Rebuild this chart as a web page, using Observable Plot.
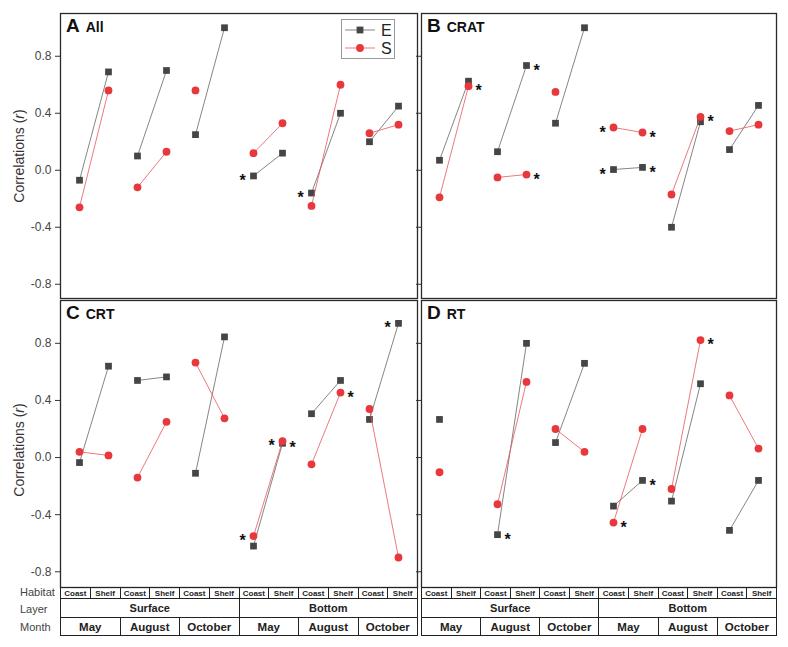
<!DOCTYPE html>
<html>
<head>
<meta charset="utf-8">
<script src="https://cdn.jsdelivr.net/npm/d3@7"></script>
<script src="https://cdn.jsdelivr.net/npm/@observablehq/plot@0.6"></script>
<style>
  body { margin: 0; background: #fff; }
  #root { position: relative; width: 788px; height: 647px; overflow: hidden; background: #fff; font-family: "Liberation Sans", Arial, sans-serif; }
  .abs { position: absolute; }
  .plab { position: absolute; font-weight: bold; color: #111; white-space: nowrap; }
  .plab .big { font-size: 19px; }
  .plab .small { font-size: 14px; margin-left: 6px; }
  table.tb { position: absolute; border-collapse: collapse; table-layout: fixed; }
  table.tb td { border: 1px solid #222; padding: 0; text-align: center; font-weight: bold; color: #222; overflow: hidden; white-space: nowrap; }
  .rowlab { position: absolute; left: 20px; font-size: 11px; color: #444; }
  .ylab { position: absolute; font-size: 14px; color: #333; transform: translate(-50%, -50%) rotate(-90deg); white-space: nowrap; }
</style>
</head>
<body>
<div id="root"></div>
<script>
// ---------- data ----------
const habitats = ["Coast", "Shelf"];
const layers = ["Surface", "Bottom"];
const months = ["May", "August", "October"];
const yTicks = [-0.8, -0.4, 0.0, 0.4, 0.8];

// 12 positions: Surface May Coast/Shelf, Surface Aug, Surface Oct, Bottom May, Bottom Aug, Bottom Oct
const E_All  = [-0.07, 0.69, 0.10, 0.70, 0.25, 1.00, -0.04, 0.12, -0.16, 0.40, 0.20, 0.45];
const S_All  = [-0.26, 0.56, -0.12, 0.13, 0.56, null, 0.12, 0.33, -0.25, 0.60, 0.26, 0.32];
const E_CRAT = [0.07, 0.625, 0.13, 0.735, 0.33, 1.00, 0.005, 0.02, -0.40, 0.34, 0.145, 0.455];
const S_CRAT = [-0.19, 0.59, -0.05, -0.03, 0.55, null, 0.30, 0.265, -0.17, 0.375, 0.275, 0.32];
const E_CRT  = [-0.035, 0.64, 0.54, 0.565, -0.11, 0.845, -0.62, 0.10, 0.307, 0.54, 0.267, 0.94];
const S_CRT  = [0.04, 0.015, -0.14, 0.25, 0.665, 0.275, -0.55, 0.115, -0.047, 0.455, 0.34, -0.70];
const E_RT   = [0.267, null, -0.54, 0.80, 0.105, 0.66, -0.34, -0.16, -0.305, 0.517, -0.51, -0.16];
const S_RT   = [-0.103, null, -0.327, 0.53, 0.20, 0.04, -0.455, 0.20, -0.22, 0.823, 0.435, 0.063];

// significance marks: position index, series, side of the point
const sig_All  = [{i: 6, s: "E", side: "L"}, {i: 8, s: "E", side: "L"}];
const sig_CRAT = [{i: 1, s: "S", side: "R"}, {i: 3, s: "E", side: "R"}, {i: 3, s: "S", side: "R"},
                  {i: 6, s: "S", side: "L"}, {i: 7, s: "S", side: "R"}, {i: 6, s: "E", side: "L"},
                  {i: 7, s: "E", side: "R"}, {i: 9, s: "S", side: "R"}];
const sig_CRT  = [{i: 6, s: "S", side: "L"}, {i: 7, s: "S", side: "L"}, {i: 7, s: "E", side: "R"},
                  {i: 9, s: "S", side: "R"}, {i: 11, s: "E", side: "L"}];
const sig_RT   = [{i: 2, s: "E", side: "R"}, {i: 6, s: "S", side: "R"}, {i: 7, s: "E", side: "R"},
                  {i: 9, s: "S", side: "R"}];

const colE = "#454545", colELine = "#666666";
const colS = "#e8383d", colSLine = "#e8555a";

// ---------- drawing ----------
const root = document.getElementById("root");

function makePanel({E, S, sig, left, top, mL, width, height, domain, showLabels}) {
  const rows = [];
  for (let i = 0; i < 12; i++) {
    rows.push({i, s: "E", v: E[i], g: Math.floor(i / 2)});
    rows.push({i, s: "S", v: S[i], g: Math.floor(i / 2)});
  }
  const valid = rows.filter(d => d.v != null);
  const eRows = valid.filter(d => d.s === "E");
  const sRows = valid.filter(d => d.s === "S");
  const lookup = (i, s) => (s === "E" ? E : S)[i];
  const sigRows = sig.map(d => ({...d, v: lookup(d.i, d.s)}));
  const chart = Plot.plot({
    width, height,
    marginLeft: mL, marginRight: 4, marginTop: 13, marginBottom: 2,
    style: {fontFamily: "'Liberation Sans', Arial, sans-serif", fontSize: "12px", color: "#444", background: "transparent", overflow: "visible"},
    x: {type: "point", domain: d3.range(12), padding: 0.5, axis: null},
    y: {domain, axis: null},
    marks: [
      Plot.axisY({ticks: yTicks, tickSize: 5, tickPadding: 4, stroke: "#333",
                  tickFormat: showLabels ? (d => d.toFixed(1)) : (() => ""), label: null}),
      Plot.line(eRows, {x: "i", y: "v", z: "g", stroke: colELine, strokeWidth: 0.8}),
      Plot.dot(eRows, {x: "i", y: "v", symbol: "square", r: 3.8, fill: colE, stroke: "none"}),
      Plot.line(sRows, {x: "i", y: "v", z: "g", stroke: colSLine, strokeWidth: 0.8}),
      Plot.dot(sRows, {x: "i", y: "v", symbol: "circle", r: 3.9, fill: colS, stroke: "none"}),
      Plot.text(sigRows.filter(d => d.side === "L"), {x: "i", y: "v", text: () => "*", dx: -11, dy: 5, fontSize: 16, fontWeight: "bold", fill: "#111"}),
      Plot.text(sigRows.filter(d => d.side === "R"), {x: "i", y: "v", text: () => "*", dx: 10, dy: 5, fontSize: 16, fontWeight: "bold", fill: "#111"}),
      Plot.frame({stroke: "#2a2a2a", strokeWidth: 1.3})
    ]
  });
  chart.style.position = "absolute";
  chart.style.left = left + "px";
  chart.style.top = top + "px";
  root.appendChild(chart);
}

makePanel({E: E_All, S: S_All, sig: sig_All, left: 0, top: 0, mL: 60, width: 421, height: 300, domain: [-0.9, 1.1], showLabels: true});
makePanel({E: E_CRAT, S: S_CRAT, sig: sig_CRAT, left: 400, top: 0, mL: 21, width: 380, height: 300, domain: [-0.9, 1.1], showLabels: false});
makePanel({E: E_CRT, S: S_CRT, sig: sig_CRT, left: 0, top: 287, mL: 60, width: 421, height: 302, domain: [-0.91, 1.1], showLabels: true});
makePanel({E: E_RT, S: S_RT, sig: sig_RT, left: 400, top: 287, mL: 21, width: 380, height: 302, domain: [-0.91, 1.1], showLabels: false});

// panel labels
function addLabel(letter, name, left, top) {
  const d = document.createElement("div");
  d.className = "plab";
  d.style.left = left + "px"; d.style.top = top + "px";
  d.innerHTML = `<span class="big">${letter}</span><span class="small">${name}</span>`;
  root.appendChild(d);
}
addLabel("A", "All", 66, 15);
addLabel("B", "CRAT", 427, 15);
addLabel("C", "CRT", 66, 302);
addLabel("D", "RT", 427, 302);

// y axis titles
function addYLab(cx, cy) {
  const d = document.createElement("div");
  d.className = "ylab";
  d.style.left = cx + "px"; d.style.top = cy + "px";
  d.innerHTML = "Correlations (<i>r</i>)";
  root.appendChild(d);
}
addYLab(19, 156);
addYLab(19, 450);

// legend
const leg = document.createElement("div");
leg.className = "abs";
leg.style.cssText = "left:341px;top:19px;width:52px;height:38px;border:1px solid #999;background:#fff;";
leg.innerHTML = `<svg width="52" height="38" style="position:absolute;left:0;top:0">
  <line x1="3" x2="33" y1="10" y2="10" stroke="${colELine}" stroke-width="0.8"/>
  <rect x="14.6" y="6.6" width="6.8" height="6.8" fill="${colE}"/>
  <line x1="3" x2="33" y1="28" y2="28" stroke="${colSLine}" stroke-width="0.8"/>
  <circle cx="18" cy="28" r="3.9" fill="${colS}"/>
  <text x="39" y="15.5" font-size="16" fill="#222" font-family="Liberation Sans, Arial">E</text>
  <text x="39" y="33.5" font-size="16" fill="#222" font-family="Liberation Sans, Arial">S</text>
</svg>`;
root.appendChild(leg);

// bottom category tables
function addTable(left, width) {
  const t = document.createElement("table");
  t.className = "tb";
  t.style.left = left + "px"; t.style.top = "587px"; t.style.width = width + "px";
  let h = `<colgroup>${"<col>".repeat(12)}</colgroup>`;
  h += "<tr style='height:11px'>";
  for (const l of layers) for (const m of months) for (const hb of habitats)
    h += `<td style="font-size:8px;line-height:9px">${hb}</td>`;
  h += "</tr><tr style='height:19px'>";
  for (const l of layers) h += `<td colspan="6" style="font-size:11px">${l}</td>`;
  h += "</tr><tr style='height:18px'>";
  for (const l of layers) for (const m of months) h += `<td colspan="2" style="font-size:11.5px">${m}</td>`;
  h += "</tr>";
  t.innerHTML = h;
  root.appendChild(t);
}
addTable(60, 358);
addTable(421, 356);

[["Habitat", 586], ["Layer", 603], ["Month", 621]].forEach(([txt, y]) => {
  const d = document.createElement("div");
  d.className = "rowlab";
  d.style.top = y + "px";
  d.textContent = txt;
  root.appendChild(d);
});
</script>
</body>
</html>
